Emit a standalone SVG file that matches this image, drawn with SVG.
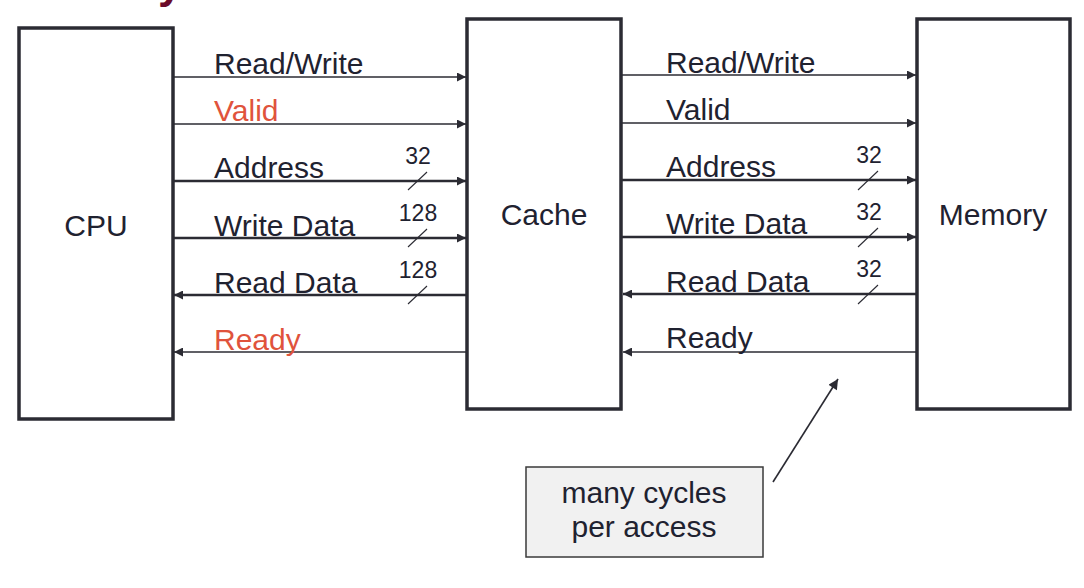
<svg xmlns="http://www.w3.org/2000/svg" width="1084" height="588" viewBox="0 0 1084 588">
  <style>
    .box { fill: #ffffff; stroke: #2b2b33; stroke-width: 3.5; }
    .note { fill: #f1f1f1; stroke: #3a3a3a; stroke-width: 1.5; }
    .lbl { font-family: "Liberation Sans", Arial, sans-serif; font-size: 30px; fill: #1f2230; }
    .red { fill: #e0533c; }
    .num { font-family: "Liberation Sans", Arial, sans-serif; font-size: 23px; fill: #1f2230; text-anchor: middle; }
    .title { font-family: "Liberation Sans", Arial, sans-serif; font-size: 30px; fill: #1f2230; text-anchor: middle; }
    .ctl { stroke: #2b2b33; stroke-width: 1.6; fill: none; }
    .bus { stroke: #2b2b33; stroke-width: 2.6; fill: none; }
    .tick { stroke: #2b2b33; stroke-width: 1.1; fill: none; }
  </style>
  <defs>
    <marker id="ah" viewBox="0 0 10 10" refX="10" refY="5" markerWidth="11" markerHeight="9" markerUnits="userSpaceOnUse" orient="auto">
      <path d="M0,0 L10,5 L0,10 z" fill="#2b2b33"/>
    </marker>
    <marker id="ahs" viewBox="0 0 10 10" refX="10" refY="5" markerWidth="12" markerHeight="10" markerUnits="userSpaceOnUse" orient="auto">
      <path d="M0,0 L10,5 L0,10 z" fill="#2b2b33"/>
    </marker>
  </defs>

  <text x="158" y="-2" font-family="Liberation Sans, Arial, sans-serif" font-size="44" font-weight="bold" fill="#6b0a2a">y</text>

  <g id="cpu">
    <rect class="box" x="19" y="28" width="154" height="391"/>
    <text class="title" x="96" y="236">CPU</text>
  </g>
  <g id="cache">
    <rect class="box" x="467" y="19" width="154" height="390"/>
    <text class="title" x="544" y="225">Cache</text>
  </g>
  <g id="memory">
    <rect class="box" x="917" y="19" width="153" height="390"/>
    <text class="title" x="993" y="225">Memory</text>
  </g>

  <g id="connectors">
    <!-- CPU <-> Cache -->
    <line class="ctl" x1="173" y1="77" x2="466" y2="77" marker-end="url(#ah)"/>
    <line class="ctl" x1="173" y1="124" x2="466" y2="124" marker-end="url(#ah)"/>
    <line class="bus" x1="173" y1="181" x2="466" y2="181" marker-end="url(#ah)"/>
    <line class="bus" x1="173" y1="238" x2="466" y2="238" marker-end="url(#ah)"/>
    <line class="bus" x1="466" y1="295" x2="174" y2="295" marker-end="url(#ah)"/>
    <line class="ctl" x1="466" y1="352" x2="174" y2="352" marker-end="url(#ah)"/>
    <line class="tick" x1="408" y1="190" x2="427" y2="172"/>
    <line class="tick" x1="408" y1="247" x2="427" y2="229"/>
    <line class="tick" x1="408" y1="304" x2="427" y2="286"/>

    <!-- Cache <-> Memory -->
    <line class="ctl" x1="622" y1="75" x2="916" y2="75" marker-end="url(#ah)"/>
    <line class="ctl" x1="622" y1="123" x2="916" y2="123" marker-end="url(#ah)"/>
    <line class="bus" x1="622" y1="180" x2="916" y2="180" marker-end="url(#ah)"/>
    <line class="bus" x1="622" y1="237" x2="916" y2="237" marker-end="url(#ah)"/>
    <line class="bus" x1="917" y1="294" x2="623" y2="294" marker-end="url(#ah)"/>
    <line class="ctl" x1="917" y1="352" x2="623" y2="352" marker-end="url(#ah)"/>
    <line class="tick" x1="858" y1="190" x2="878" y2="171"/>
    <line class="tick" x1="858" y1="247" x2="878" y2="228"/>
    <line class="tick" x1="858" y1="304" x2="878" y2="285"/>

    <!-- note pointer -->
    <line class="ctl" x1="773" y1="482" x2="838" y2="379" marker-end="url(#ahs)"/>
  </g>

  <g id="labels-left">
    <text class="lbl" x="214" y="74">Read/Write</text>
    <text class="lbl red" x="214" y="121">Valid</text>
    <text class="lbl" x="214" y="178">Address</text>
    <text class="lbl" x="214" y="236">Write Data</text>
    <text class="lbl" x="214" y="293">Read Data</text>
    <text class="lbl red" x="214" y="350">Ready</text>
    <text class="num" x="418" y="164">32</text>
    <text class="num" x="418" y="221">128</text>
    <text class="num" x="418" y="278">128</text>
  </g>

  <g id="labels-right">
    <text class="lbl" x="666" y="73">Read/Write</text>
    <text class="lbl" x="666" y="120">Valid</text>
    <text class="lbl" x="666" y="177">Address</text>
    <text class="lbl" x="666" y="234">Write Data</text>
    <text class="lbl" x="666" y="292">Read Data</text>
    <text class="lbl" x="666" y="348">Ready</text>
    <text class="num" x="869" y="163">32</text>
    <text class="num" x="869" y="220">32</text>
    <text class="num" x="869" y="277">32</text>
  </g>

  <g id="note">
    <rect class="note" x="526" y="467" width="237" height="90"/>
    <text class="title" x="644" y="503">many cycles</text>
    <text class="title" x="644" y="537">per access</text>
  </g>
</svg>
